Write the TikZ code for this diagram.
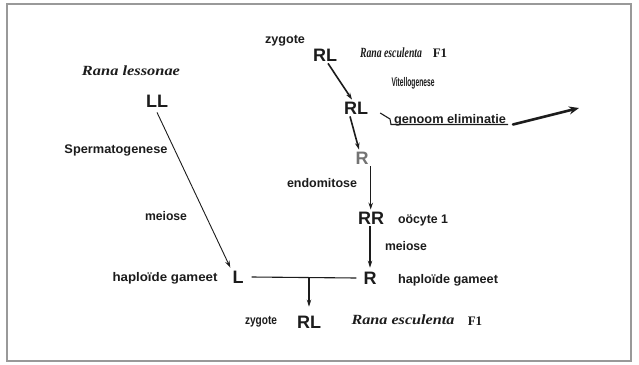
\documentclass[tikz,border=0pt]{standalone}
\usepackage{fontspec}
\usepackage{graphicx}
\setmainfont{Liberation Sans}
\newfontfamily\tmsf{Liberation Serif}
\usetikzlibrary{arrows.meta}
\newcommand{\fitw}[2]{\resizebox{#1pt}{\height}{#2}}
\definecolor{ink}{HTML}{1C1C1C}
\tikzset{
  big/.style={font=\fontsize{18}{18}\selectfont\bfseries, text=ink, inner sep=2pt},
  lab/.style={font=\fontsize{12.5}{12.5}\selectfont\bfseries, text=ink, inner sep=0pt},
  spec/.style={font=\tmsf\fontsize{14}{14}\selectfont\bfseries\itshape, text=ink, inner sep=0pt},
  conn/.style={draw=ink, line width=1.1pt},
  arr/.style={conn, -{Stealth[length=7pt,width=4.5pt]}},
  thickarr/.style={draw=ink, line width=2.6pt, line cap=round, -{Stealth[length=10pt,width=8pt]}}
}
\begin{document}
\begin{tikzpicture}[x=1pt,y=-1pt]
\fill[white] (0,0) rectangle (639,364);
\useasboundingbox (0,0) rectangle (639,364);
\draw[black!40, line width=1.6pt] (7,4) rectangle (631,361);

% left column
\node[spec] (rles) at (131,71) {\fitw{98}{Rana lessonae}};
\node[big] (LL) at (157,101) {LL};
\node[lab] (sperm) at (116,150) {\fitw{103}{Spermatogenese}};
\node[lab] (meil) at (166,216) {\fitw{42}{meiose}};
\node[lab] (hapl) at (165,278) {\fitw{105}{haploïde gameet}};
\node[big] (L) at (238,277) {L};

% right column
\node[lab] (zyt) at (285,41) {\fitw{40}{zygote}};
\node[big] (RLt) at (325,55) {RL};
\node[spec] (rest) at (391,53) {\fitw{62}{Rana esculenta}};
\node[spec, font=\tmsf\fontsize{13}{13}\selectfont\bfseries] (F1t) at (440,53) {F1};
\node[lab] (vit) at (413,83) {\fitw{43}{Vitellogenese}};
\node[big] (RL2) at (356,108) {RL};
\node[lab] (gen) at (450,120) {\fitw{112}{genoom eliminatie}};
\coordinate (u0) at (390,119);
\coordinate (u1) at (391,124.5);
\coordinate (u2) at (508,124.5);
\coordinate (gout) at (579,108);
\node[big, text=black!55] (Rm) at (362,158) {R};
\node[lab] (endo) at (322,183) {\fitw{70}{endomitose}};
\node[big] (RR) at (371,218) {RR};
\node[lab] (ooc) at (423,220) {\fitw{50}{oöcyte 1}};
\node[lab] (meir) at (406,246) {\fitw{42}{meiose}};
\node[big] (Rb) at (370,278) {R};
\node[lab] (hapr) at (448,280) {\fitw{100}{haploïde gameet}};

% bottom
\node[lab] (zyb) at (261,322) {\fitw{32}{zygote}};
\node[big] (RLb) at (309,322) {RL};
\node[spec] (resb) at (403,320) {\fitw{103}{Rana esculenta}};
\node[spec, font=\tmsf\fontsize{13}{13}\selectfont\bfseries] (F1b) at (475,321) {F1};

% connectors
\draw[arr, line width=0.9pt] ([yshift=-3pt]LL.south) -- ([shift={(0pt,1pt)}]L.north west);
\draw[arr, line width=1.6pt] ([xshift=3pt]RLt.south) -- ([xshift=-4pt]RL2.north);
\draw[arr, line width=1.6pt] ([xshift=-6pt]RL2.south) -- ([xshift=-3pt]Rm.north);
\draw[conn] ([shift={(10pt,-5pt)}]RL2.east) -- (u0) -- (u1) -- (u2);
\draw[thickarr] ([xshift=5pt]u2) .. controls (535,119) and (555,114) .. (gout);
\draw[arr] (Rm.south east) -- (Rm.south east |- RR.north);
\draw[arr, line width=1.6pt] (RR.south -| Rb) -- ([yshift=2pt]Rb.north);
\draw[conn] ([xshift=6pt]L.east) -- ([xshift=-5pt]Rb.west);
\draw[arr] (RLb.north |- L) -- ([yshift=7pt]RLb.north);
\end{tikzpicture}
\end{document}
